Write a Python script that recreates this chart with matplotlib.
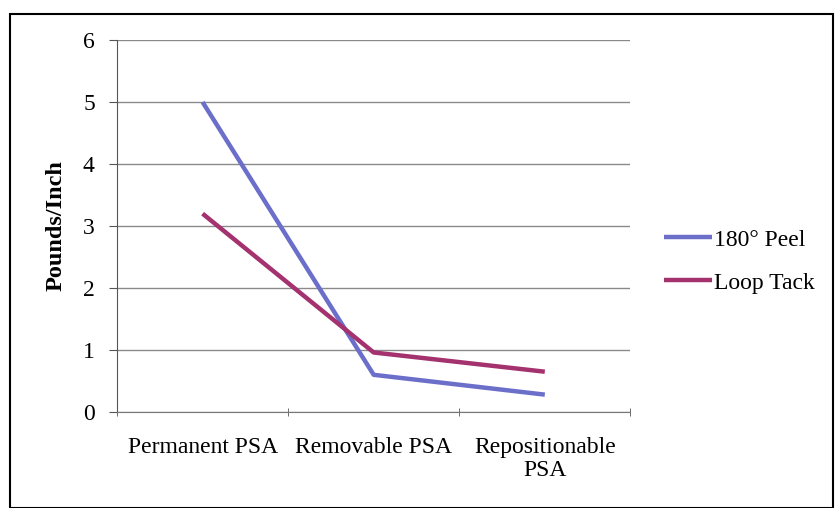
import numpy as np
import matplotlib.pyplot as plt
from matplotlib.patches import Rectangle

categories = ["Permanent PSA", "Removable PSA", "Repositionable\nPSA"]
peel_180 = [5.0, 0.6, 0.28]
loop_tack = [3.2, 0.96, 0.65]
y_ticks = [0, 1, 2, 3, 4, 5, 6]

plt.rcParams['font.family'] = ['Liberation Serif', 'DejaVu Serif']

fig = plt.figure(figsize=(8.36, 5.08), dpi=100)
ax = fig.add_axes([0.140, 0.189, 0.614, 0.732])

x = np.arange(len(categories))
ax.plot(x, peel_180, color='#6b6fc9', lw=3.2, label='180° Peel', solid_capstyle='butt')
ax.plot(x, loop_tack, color='#a3326f', lw=3.2, label='Loop Tack', solid_capstyle='butt')

ax.set_xlim(-0.5, len(categories) - 0.5)
ax.set_ylim(0, 6)
ax.set_yticks(y_ticks)
ax.set_xticks(x)
ax.set_xticklabels(categories, fontsize=17, linespacing=1.1)
ax.tick_params(axis='x', length=0, pad=18)
ax.set_xticks(np.arange(len(categories) + 1) - 0.5, minor=True)
ax.tick_params(axis='x', which='minor', length=6, direction='inout', color='#555555')
ax.tick_params(axis='y', labelsize=17, length=6, color='#555555', pad=10)
ax.yaxis.grid(True, color='#8a8a8a', lw=1)
ax.set_axisbelow(True)
for s in ['top', 'right']:
    ax.spines[s].set_visible(False)
ax.spines['left'].set_color('#555555')
ax.spines['bottom'].set_color('#777777')
ax.set_ylabel('Pounds/Inch', fontsize=17.5, fontweight='bold', labelpad=12)

ax.legend(loc='center left', bbox_to_anchor=(1.025, 0.405), frameon=False,
          fontsize=17, handlelength=2.0, handletextpad=0.1, labelspacing=0.9)

fig.patches.append(Rectangle((0.012, 0.0), 0.985, 0.972, transform=fig.transFigure,
                             fill=False, edgecolor='black', lw=1.5))

fig.savefig('out.png', dpi=100)
